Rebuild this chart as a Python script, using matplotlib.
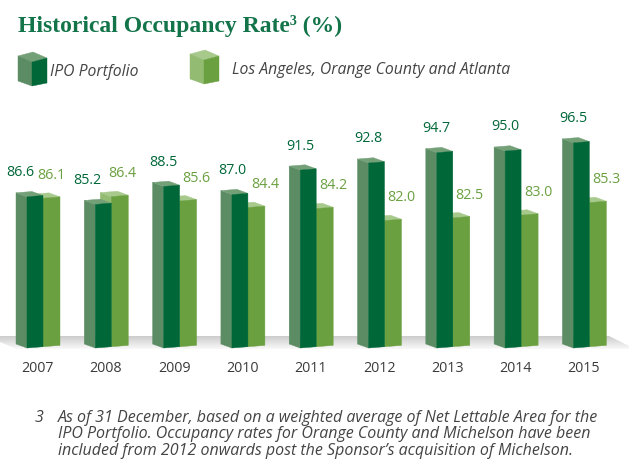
import matplotlib
matplotlib.use("Agg")
import numpy as np
import matplotlib.pyplot as plt
from matplotlib.patches import Polygon

# data
years = ["2007", "2008", "2009", "2010", "2011", "2012", "2013", "2014", "2015"]
ipo = [86.6, 85.2, 88.5, 87.0, 91.5, 92.8, 94.7, 95.0, 96.5]
la_oc_atl = [86.1, 86.4, 85.6, 84.4, 84.2, 82.0, 82.5, 83.0, 85.3]
series_names = ["IPO Portfolio", "Los Angeles, Orange County and Atlanta"]
# label nudges (px) where the early labels crowd each other
ipo_nudge = [-7, -8, 0, 0, 0, 0, 0, 0, 0]
la_nudge = [-9, -6, 0, 0, 0, 0, 0, 0, 0]

footnote = ["As of 31 December, based on a weighted average of Net Lettable Area for the",
            "IPO Portfolio. Occupancy rates for Orange County and Michelson have been",
            "included from 2012 onwards post the Sponsor\u2019s acquisition of Michelson."]

# colours
DARK_FRONT, DARK_SIDE, DARK_TOP = "#006838", "#5b8c63", "#74a078"
LIGHT_FRONT, LIGHT_SIDE, LIGHT_TOP = "#6aa040", "#93bb72", "#a8c98c"
TITLE_C, TEXT_C = "#13744a", "#444444"

# layout (pixels)
W, H = 629, 464
PITCH = 68.3      # px between year groups
PXV = 5.45        # px per percentage point
X0 = 27           # px of first dark front edge
V_REF, Y_REF = 95.0, 152
WD, WL = 16, 17   # front widths
DX, DY = 11, 4    # depth offset of side/top
SLOPE = 0.08      # rise of front edges per px

fig = plt.figure(figsize=(W / 100, H / 100), dpi=100)
bg = fig.add_axes([0, 0, 1, 1])
bg.set_xlim(0, W); bg.set_ylim(H, 0); bg.axis("off")
ax = fig.add_axes([0, 0, 1, 1])
ax.patch.set_alpha(0); ax.axis("off")
ax.set_xlim(-X0 / PITCH, (W - X0) / PITCH)
ax.set_ylim(V_REF - (H - Y_REF) / PXV, V_REF + Y_REF / PXV)

ux = 1 / PITCH  # px -> x units
uv = 1 / PXV    # px -> value units
base = V_REF - (349 - Y_REF) / PXV

# floor
floor = Polygon([(0, 337), (609, 337), (629, 347), (629, 350), (17, 350), (0, 343)],
                closed=True, facecolor="none", edgecolor="none")
bg.add_patch(floor)
grad = np.linspace(0.80, 0.975, 50).reshape(-1, 1)
im = bg.imshow(grad, cmap="gray", vmin=0, vmax=1, aspect="auto",
               extent=[0, W, 350, 337], zorder=0)
im.set_clip_path(floor)
bg.set_xlim(0, W); bg.set_ylim(H, 0)


def poly(a, pts, color, z):
    a.add_patch(Polygon(pts, closed=True, facecolor=color, edgecolor=color,
                        linewidth=0.3, zorder=z))


def box(a, x, w, y0, y1, front, side, top, z, rise0=0.0):
    # front face with a slight rise to the right, side & top going back-left
    r0 = rise0 * uv
    r1 = (rise0 + SLOPE * w) * uv
    wx, dx, dy = w * ux, DX * ux, DY * uv
    poly(a, [(x, y0 + r0), (x - dx, y0 + r0 + dy), (x - dx, y1 + r0 + dy), (x, y1 + r0)], side, z)
    poly(a, [(x, y1 + r0), (x + wx, y1 + r1), (x + wx - dx, y1 + r1 + dy), (x - dx, y1 + r0 + dy)], top, z)
    poly(a, [(x, y0 + r0), (x + wx, y0 + r1), (x + wx, y1 + r1), (x, y1 + r0)], front, z + 0.5)


for i, (a_val, b_val) in enumerate(zip(ipo, la_oc_atl)):
    # light bar sits behind the dark one
    box(ax, i + WD * ux, WL, base, b_val, LIGHT_FRONT, LIGHT_SIDE, LIGHT_TOP, 2, rise0=SLOPE * WD)
    box(ax, i, WD, base, a_val, DARK_FRONT, DARK_SIDE, DARK_TOP, 3)
    ax.text(i + ipo_nudge[i] * ux, a_val + 4.6, f"{a_val:.1f}", ha="center", va="center",
            fontsize=10.3, color=DARK_FRONT, family="Open Sans")
    ax.text(i + (WD + WL + la_nudge[i]) * ux, b_val + 4.6, f"{b_val:.1f}", ha="center",
            va="center", fontsize=10.3, color=LIGHT_FRONT, family="Open Sans")
    ax.text(i + 10.5 * ux, V_REF - (368 - Y_REF) / PXV, years[i], ha="center", va="center",
            fontsize=10.3, color="#3a3a3a", family="Open Sans")

# title
bg.text(18, 32, "Historical Occupancy Rate\u00b3 (%)", ha="left", va="baseline",
        fontsize=17, fontweight="bold", color=TITLE_C, family="Liberation Serif")


# legend cubes
def icon(x, y, front, side, top):
    poly(bg, [(x, y + 4), (x + 15, y), (x + 29, y + 6), (x + 14, y + 10)], top, 2)
    poly(bg, [(x, y + 4), (x + 14, y + 10), (x + 14, y + 34), (x, y + 29)], side, 2)
    poly(bg, [(x + 14, y + 10), (x + 29, y + 6), (x + 29, y + 31), (x + 14, y + 34)], front, 2)


icon(18, 53, DARK_FRONT, DARK_SIDE, DARK_TOP)
icon(190, 51, LIGHT_FRONT, LIGHT_SIDE, LIGHT_TOP)
bg.text(50, 72, series_names[0], ha="left", va="center", fontsize=11.3, style="italic",
        color=TEXT_C, family="Open Sans")
bg.text(232, 70, series_names[1], ha="left", va="center", fontsize=11.3, style="italic",
        color=TEXT_C, family="Open Sans")

# footnote
bg.text(35, 418, "3", ha="left", va="center", fontsize=11.5, style="italic",
        color=TEXT_C, family="Open Sans")
for k, line in enumerate(footnote):
    bg.text(58, 418 + 16.5 * k, line, ha="left", va="center", fontsize=11.5, style="italic",
            color=TEXT_C, family="Open Sans")

fig.savefig("out.png", dpi=100)
